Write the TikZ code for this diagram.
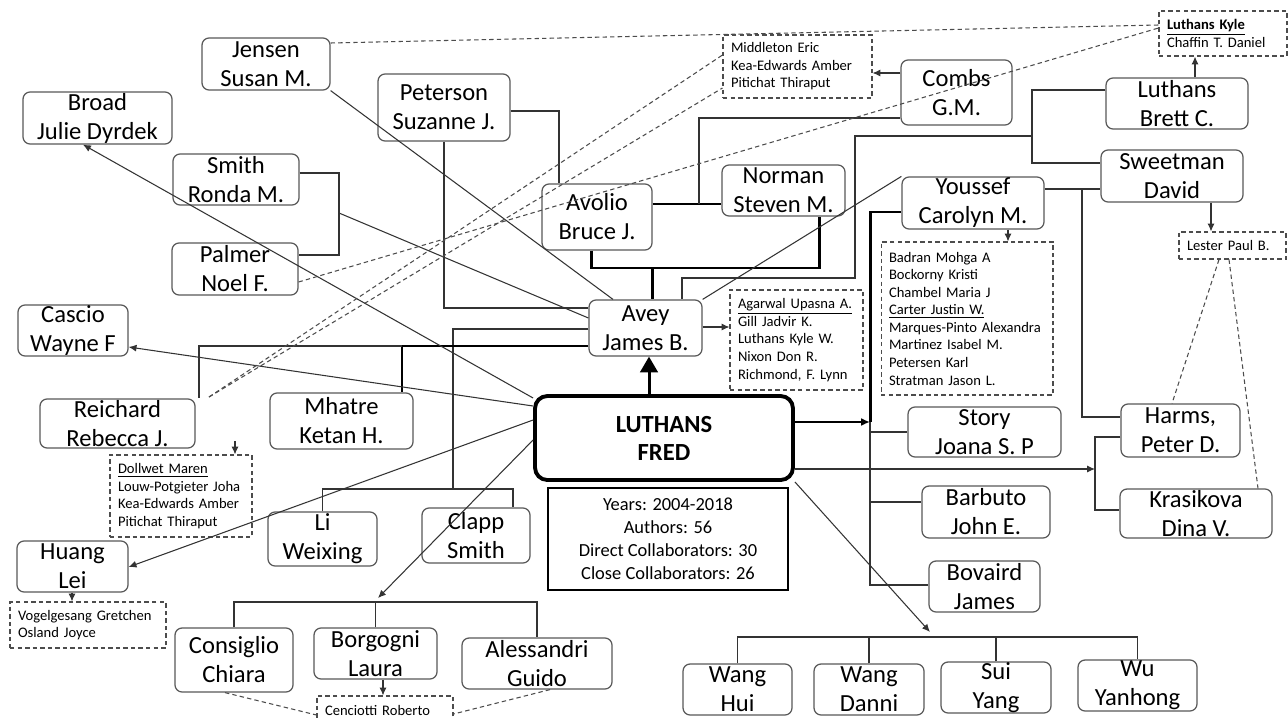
\documentclass[tikz,border=0pt]{standalone}
\usepackage{fontspec}
\setmainfont{Carlito}
\usepackage{tikz}
\usetikzlibrary{arrows.meta}
\tikzset{namebox/.style = {draw = black!65, rounded corners = 4pt, line width = 0.7pt, align = center, inner sep = 0pt, font = \fontsize{14}{16.5}\selectfont}}
\tikzset{listbox/.style = {draw = black!70, dash pattern = on 2.5pt off 1.8pt, line width = 0.6pt, align = left, inner xsep = 0.16cm, inner ysep = 0pt, font = \fontsize{8.3}{10}\selectfont}}
\tikzset{link/.style = {draw = black!80, line width = 0.6pt}}
\tikzset{boldlink/.style = {draw = black, line width = 1.7pt}}
\tikzset{dlink/.style = {draw = black!70, dash pattern = on 2.5pt off 1.8pt, line width = 0.6pt}}
\tikzset{arrowed/.style = {-{Latex[length = 4.5pt, width = 4pt]}}}

\begin{document}
\begin{tikzpicture}[x = 0.02cm, y = -0.02cm]
    \path[fill = white, use as bounding box] (0, 0) rectangle (1288, 720);

    \node[namebox, draw = black, line width = 2.2pt, rounded corners = 7pt, font = \fontsize{14}{16}\selectfont\bfseries, minimum width = 5.16cm, minimum height = 1.68cm] (fred) at (664, 438) {LUTHANS\\FRED};
    \node[draw = black, line width = 1.3pt, align = center, font = \fontsize{10.5}{13}\selectfont, minimum width = 4.8cm, minimum height = 2.04cm] (info) at (668, 539) {Years: 2004-2018\\Authors: 56\\Direct Collaborators: 30\\Close Collaborators: 26};

    \node[namebox, minimum width = 2.56cm, minimum height = 1.04cm] (jensen) at (266, 64) {Jensen\\Susan M.};
    \node[namebox, minimum width = 2.98cm, minimum height = 1.04cm] (broad) at (97.5, 118) {Broad\\Julie Dyrdek};
    \node[namebox, minimum width = 2.64cm, minimum height = 1.34cm] (peterson) at (444, 107.5) {Peterson\\Suzanne J.};
    \node[namebox, minimum width = 2.52cm, minimum height = 1.02cm] (smith) at (236, 179.5) {Smith\\Ronda M.};
    \node[namebox, minimum width = 2.52cm, minimum height = 1.04cm] (palmer) at (235, 269) {Palmer\\Noel F.};
    \node[namebox, minimum width = 2.2cm, minimum height = 1.32cm] (avolio) at (597, 217) {Avolio\\Bruce J.};
    \node[namebox, minimum width = 2.46cm, minimum height = 1.02cm] (norman) at (783.5, 190.5) {Norman\\Steven M.};
    \node[namebox, minimum width = 2.22cm, minimum height = 1.3cm] (combs) at (956.5, 92.5) {Combs\\G.M.};
    \node[namebox, minimum width = 2.84cm, minimum height = 1.02cm] (brett) at (1177, 103.5) {Luthans\\Brett C.};
    \node[namebox, minimum width = 2.84cm, minimum height = 1.04cm] (sweetman) at (1172, 176) {Sweetman\\David};
    \node[namebox, minimum width = 2.84cm, minimum height = 1.04cm] (youssef) at (973, 203) {Youssef\\Carolyn M.};
    \node[namebox, minimum width = 2.26cm, minimum height = 1.12cm] (avey) at (645.5, 328) {Avey\\James B.};
    \node[namebox, minimum width = 2.2cm, minimum height = 1.02cm] (cascio) at (73, 330.5) {Cascio\\Wayne F};
    \node[namebox, minimum width = 3.1cm, minimum height = 0.98cm] (reichard) at (117.5, 423.5) {Reichard\\Rebecca J.};
    \node[namebox, minimum width = 2.86cm, minimum height = 1.12cm] (mhatre) at (341.5, 421) {Mhatre\\Ketan H.};
    \node[namebox, minimum width = 2.18cm, minimum height = 1.08cm] (li) at (322.5, 539) {Li\\Weixing};
    \node[namebox, minimum width = 2.16cm, minimum height = 1.1cm] (clapp) at (476, 535.5) {Clapp\\Smith};
    \node[namebox, minimum width = 2.22cm, minimum height = 1.02cm] (huang) at (72.5, 566.5) {Huang\\Lei};
    \node[namebox, minimum width = 2.36cm, minimum height = 1.28cm] (consiglio) at (234, 660) {Consiglio\\Chiara};
    \node[namebox, minimum width = 2.46cm, minimum height = 1.02cm] (borgogni) at (375.5, 653.5) {Borgogni\\Laura};
    \node[namebox, minimum width = 3cm, minimum height = 1.02cm] (alessandri) at (537, 663.5) {Alessandri\\Guido};
    \node[namebox, minimum width = 3.06cm, minimum height = 1cm] (story) at (984.5, 432) {Story\\Joana S. P};
    \node[namebox, minimum width = 2.56cm, minimum height = 1.04cm] (barbuto) at (986, 512) {Barbuto\\John E.};
    \node[namebox, minimum width = 2.22cm, minimum height = 1.02cm] (bovaird) at (984.5, 586.5) {Bovaird\\James};
    \node[namebox, minimum width = 2.38cm, minimum height = 1.06cm] (harms) at (1180.5, 430.5) {Harms,\\Peter D.};
    \node[namebox, minimum width = 3.04cm, minimum height = 0.98cm] (krasikova) at (1196, 513.5) {Krasikova\\Dina V.};
    \node[namebox, minimum width = 2.18cm, minimum height = 1.02cm] (wanghui) at (737.5, 689.5) {Wang\\Hui};
    \node[namebox, minimum width = 2.2cm, minimum height = 1.02cm] (wangdanni) at (869, 689.5) {Wang\\Danni};
    \node[namebox, minimum width = 2.2cm, minimum height = 1.02cm] (sui) at (996, 687.5) {Sui\\Yang};
    \node[namebox, minimum width = 2.38cm, minimum height = 1.02cm] (wu) at (1137.5, 685.5) {Wu\\Yanhong};

    \node[listbox, text width = 2.66cm, minimum height = 1.26cm] (middleton) at (797.5, 66.5) {Middleton Eric\\Kea-Edwards Amber\\Pitichat Thiraput};
    \node[listbox, text width = 2.24cm, minimum height = 0.9cm] (kyle) at (1223, 33.5) {\underline{\textbf{Luthans Kyle}}\\Chaffin T. Daniel};
    \node[listbox, text width = 1.82cm, minimum height = 0.54cm] (lester) at (1232.5, 245.5) {Lester Paul B.};
    \node[listbox, text width = 3.12cm, minimum height = 3.06cm] (badran) at (967, 318.5) {Badran Mohga A\\Bockorny Kristi\\Chambel Maria J\\\underline{Carter Justin W.}\\Marques-Pinto Alexandra\\Martinez Isabel M.\\Petersen Karl\\Stratman Jason L.};
    \node[listbox, text width = 2.34cm, minimum height = 2cm] (agarwal) at (796.5, 340) {\underline{Agarwal Upasna A.}\\Gill Jadvir K.\\Luthans Kyle W.\\Nixon Don R.\\Richmond, F. Lynn};
    \node[listbox, text width = 2.52cm, minimum height = 1.64cm] (dollwet) at (181, 496) {\underline{Dollwet Maren}\\Louw-Potgieter Joha\\Kea-Edwards Amber\\Pitichat Thiraput};
    \node[listbox, text width = 2.8cm, minimum height = 0.92cm] (vogel) at (88, 625) {Vogelgesang Gretchen\\Osland Joyce};
    \node[listbox, text width = 2.4cm, minimum height = 0.56cm] (cenciotti) at (385, 710) {Cenciotti Roberto};

    \coordinate (brk) at (339, 213);
    \coordinate (lcj) at (453, 489);
    \coordinate (mrj) at (402, 346);
    \coordinate (anl) at (591, 268);
    \coordinate (anj) at (652, 268);
    \coordinate (anr) at (819, 268);
    \coordinate (cj) at (699, 204);
    \coordinate (bsj) at (1032, 136);
    \coordinate (bsk) at (855, 278);
    \coordinate (ysj) at (1082, 189);
    \coordinate (trk) at (870, 422);
    \coordinate (hkj) at (1095, 469);
    \coordinate (wj) at (930, 632);
    \coordinate (cbj) at (378, 598);
    \coordinate (rdj) at (235, 441);
    \coordinate (rmd) at (209, 397);

    \draw[link] (jensen.south east) -- (avey.north -| 613, 0);
    \draw[link] (smith.east |- 0, 173) -| (brk) |- (palmer.east |- 0, 255);
    \draw[link] (brk) -- (avey.west |- 0, 318);
    \draw[link] (peterson.east |- 0, 111) -| (avolio.north -| 559, 0);
    \draw[link] (peterson.south) |- (avey.west |- 0, 308);
    \draw[link] (avey.west |- 0, 329) -| (lcj);
    \draw[link] (li.north) |- (lcj) -| (clapp.north -| 513, 0);
    \draw[boldlink] (avey.west |- 0, 346) -- (mrj) -- (mhatre.north -| mrj);
    \draw[link, line width = 1.1pt] (mrj) -| (reichard.north east -| 199, 0);
    \draw[boldlink] (avolio.south -| anl) -- (anl) -- (anr) -- (norman.south -| anr);
    \draw[boldlink] (anj) -- (avey.north -| anj);
    \draw[boldlink] (avolio.east |- cj) -- (norman.west |- cj);
    \draw[link] (combs.west |- 0, 118) -| (cj);
    \draw[link] (brett.west |- 0, 90) -| (bsj) |- (sweetman.west |- 0, 163);
    \draw[link] (bsj) -| (bsk) -| (avey.north -| 682, 0);
    \draw[link] (youssef.east |- ysj) -- (sweetman.west |- ysj);
    \draw[link] (ysj) |- (harms.west |- 0, 417);
    \draw[link] (youssef.north west) -- (avey.north east);

    \draw[boldlink, -{Triangle[length = 9pt, width = 10pt]}] (fred.north -| 649, 0) -- (avey.south -| 649, 0);
    \draw[boldlink, -{Latex[length = 5pt, width = 4.5pt]}] (fred.east |- trk) -- (trk);
    \draw[boldlink] (trk) |- (youssef.west |- 0, 212);
    \draw[link] (trk) |- (bovaird.west |- 0, 585);
    \draw[link] (trk |- story.west) -- (story.west);
    \draw[link] (trk |- 0, 502) -- (barbuto.west |- 0, 502);
    \draw[link, arrowed] (fred.east |- hkj) -- (hkj);
    \draw[link] (harms.west |- 0, 437) -| (hkj) |- (krasikova.west |- 0, 510);
    \draw[link, arrowed] (fred.south east) -- (wj);
    \draw[link] (wanghui.north) -- (wanghui.north |- 0, 637) -- (wu.north |- 0, 637) -- (wu.north);
    \draw[link] (wangdanni.north) -- (wangdanni.north |- 0, 637);
    \draw[link] (sui.north) -- (sui.north |- 0, 637);
    \draw[link, arrowed] (fred.west |- 0, 440) -- (cbj);
    \draw[link] (consiglio.north) -- (consiglio.north |- 0, 602) -- (alessandri.north |- 0, 602) -- (alessandri.north);
    \draw[link] (borgogni.north) -- (borgogni.north |- 0, 602);
    \draw[link, arrowed] (fred.west |- 0, 398) -- (broad.south -| 83, 0);
    \draw[link, arrowed] (fred.west |- 0, 406) -- (cascio.east |- 0, 347);
    \draw[link, arrowed] (fred.west |- 0, 420) -- (huang.east |- 0, 567);

    \draw[link, arrowed] (avey.east |- 0, 327) -- (agarwal.west |- 0, 327);
    \draw[link, arrowed] (combs.west |- 0, 73) -- (middleton.east |- 0, 73);
    \draw[link, arrowed] (brett.north -| 1195, 0) -- (kyle.south -| 1195, 0);
    \draw[link, arrowed] (sweetman.south -| 1211, 0) -- (lester.north -| 1211, 0);
    \draw[link, arrowed] (youssef.south -| 1008, 0) -- (badran.north -| 1008, 0);
    \draw[link, arrowed] (rdj) -- (dollwet.north -| rdj);
    \draw[link, arrowed] (huang.south -| 72, 0) -- (vogel.north -| 72, 0);
    \draw[link, arrowed] (borgogni.south -| 383, 0) -- (cenciotti.north -| 383, 0);

    \draw[dlink] (jensen.east |- 0, 43) -- (kyle.west |- 0, 25);
    \draw[dlink] (palmer.east |- 0, 282) -- (kyle.west |- 0, 28);
    \draw[dlink] (rmd) -- (middleton.west |- 0, 55);
    \draw[dlink] (rmd) -- (middleton.west |- 0, 88);
    \draw[dlink] (lester.south -| 1219, 0) -- (harms.north -| 1172, 0);
    \draw[dlink] (lester.south -| 1229, 0) -- (krasikova.north -| 1258, 0);
    \draw[dlink] (consiglio.south -| 225, 0) -- (cenciotti.west |- 0, 715);
    \draw[dlink] (alessandri.south -| 550, 0) -- (cenciotti.east |- 0, 714);
\end{tikzpicture}
\end{document}
